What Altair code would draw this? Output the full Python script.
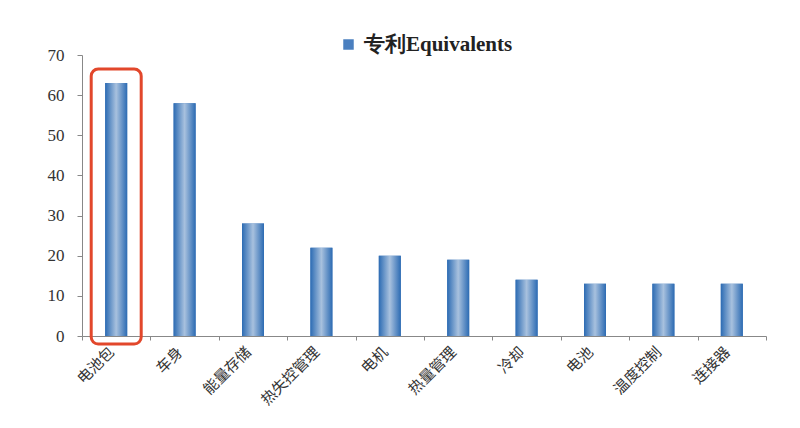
import altair as alt
import pandas as pd

categories = ["电池包", "车身", "能量存储", "热失控管理", "电机", "热量管理", "冷却", "电池", "温度控制", "连接器"]
values = [63, 58, 28, 22, 20, 19, 14, 13, 13, 13]
series_name = "专利Equivalents"

highlight_category = ["电池包"]
highlight_top = [66.5]
highlight_bottom = [-2]

df = pd.DataFrame({"cat": categories, "val": values, "series": [series_name] * len(categories)})
hl = pd.DataFrame({"cat": highlight_category, "top": highlight_top, "bottom": highlight_bottom})

x_enc = alt.X(
    "cat:N",
    sort=categories,
    scale=alt.Scale(paddingInner=0, paddingOuter=0),
    axis=alt.Axis(
        title=None,
        labelAngle=-45,
        labelAlign="right",
        labelBaseline="middle",
        labelFont="Noto Sans CJK SC",
        labelFontSize=15,
        labelColor="#333333",
        labelPadding=9,
        labelOffset=-5,
        tickBand="extent",
        tickSize=4,
        tickColor="#888888",
        domainColor="#888888",
    ),
)
y_scale = alt.Scale(domain=[0, 70], nice=False)
y_axis = alt.Axis(
    title=None,
    values=[0, 10, 20, 30, 40, 50, 60, 70],
    grid=False,
    labelFont="Liberation Serif",
    labelFontSize=17,
    labelColor="#333333",
    labelPadding=13,
    tickSize=5,
    tickColor="#888888",
    domainColor="#888888",
)

legend_layer = alt.Chart(df).mark_bar(width=22).encode(
    x=x_enc,
    y=alt.Y("val:Q", scale=y_scale, axis=y_axis),
    color=alt.Color(
        "series:N",
        scale=alt.Scale(range=["#4a7fbf"]),
        legend=alt.Legend(
            title=None,
            orient="none",
            legendX=256,
            legendY=-21,
            symbolType="square",
            symbolSize=110,
            symbolStrokeWidth=0,
            labelFont="Liberation Serif",
            labelFontSize=21,
            labelFontWeight="bold",
            labelColor="#222222",
            labelOffset=5,
            padding=0,
        ),
    ),
)

gradient = alt.Gradient(
    gradient="linear",
    x1=0, x2=1, y1=0, y2=0,
    stops=[
        alt.GradientStop(color="#2c6bb3", offset=0),
        alt.GradientStop(color="#a8c1de", offset=0.5),
        alt.GradientStop(color="#2c6bb3", offset=1),
    ],
)

bars = alt.Chart(df).mark_bar(width=22, fill=gradient).encode(
    x=alt.X("cat:N", sort=categories),
    y=alt.Y("val:Q", scale=y_scale),
)

box = alt.Chart(hl).mark_bar(
    width=50, fill="transparent", stroke="#e2472b", strokeWidth=3, cornerRadius=7, clip=False
).encode(
    x=alt.X("cat:N", sort=categories),
    y=alt.Y("top:Q", scale=y_scale),
    y2="bottom:Q",
)

chart = alt.layer(legend_layer, bars, box).properties(
    width=684,
    height=281,
    autosize=alt.AutoSizeParams(type="none"),
    padding={"left": 74, "top": 47, "right": 26, "bottom": 84},
    background="white",
).configure_view(stroke=None)

chart.save("out.html", embed_options={"renderer": "svg", "actions": False})
